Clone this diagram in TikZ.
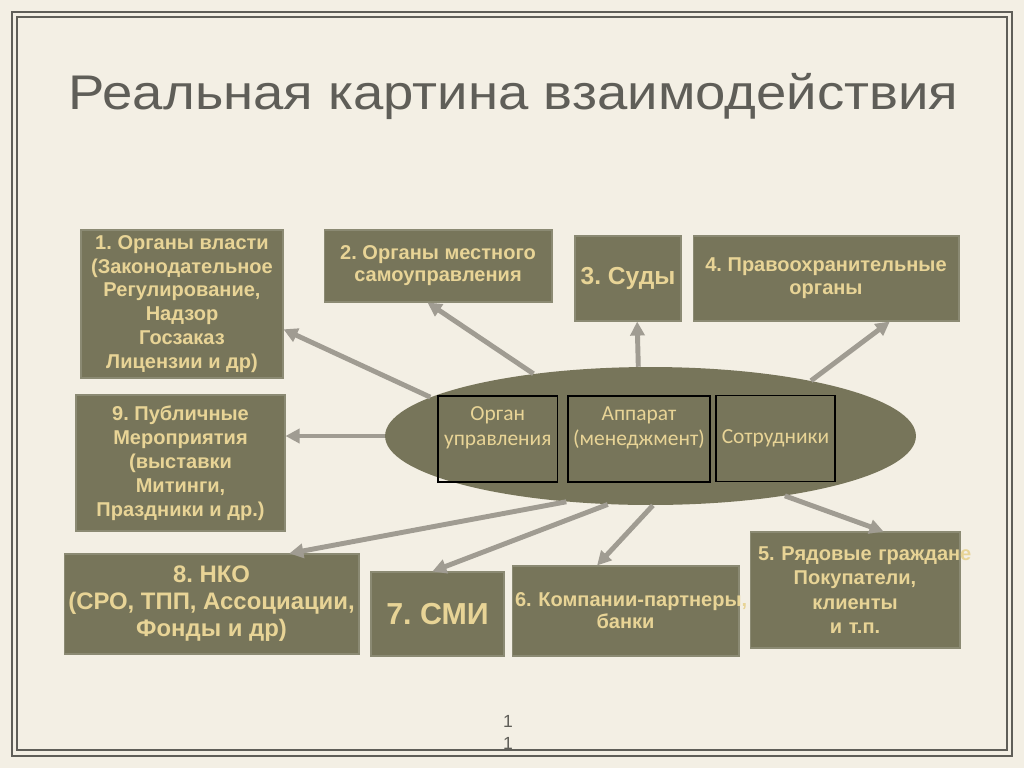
\documentclass[tikz,border=0pt]{standalone}
\usepackage{fontspec}
\setmainfont{Liberation Sans}
\newfontfamily\calib{Carlito}
\usepackage{xcolor}
\usepackage{tikz}
\usetikzlibrary{
    calc,
    arrows.meta,
    shapes.geometric % for the ellipse
}
\frenchspacing
\definecolor{paper}{RGB}{243,239,228}
\definecolor{boxolive}{RGB}{119,117,90}
\definecolor{boxtext}{RGB}{232,212,150}
\definecolor{ink}{RGB}{95,94,88}
\definecolor{arrowgray}{RGB}{160,156,146}
\tikzset{
    box/.style={rectangle, fill=boxolive, draw=boxolive!85!white, line width=0.6pt,
        text=boxtext, font=\bfseries\fontsize{11.4}{13.6}\selectfont,
        align=center, inner sep=0pt},
    cell/.style={rectangle, draw=black, line width=0.6pt, text=boxtext,
        font=\calib\fontsize{12.2}{14.7}\selectfont, align=center,
        inner sep=0pt, minimum height=1.72cm},
    title/.style={text=ink, font=\fontsize{27.7}{32}\selectfont, inner sep=0pt},
    link/.style={draw=arrowgray, line width=2.8pt, -{Triangle[length=8pt,width=8pt]}},
}

\begin{document}
\begin{tikzpicture}[x=0.02cm, y=-0.02cm]
    \useasboundingbox (0,0) rectangle (1024,768);
    \fill[paper] (0,0) rectangle (1024,768);
    % double frame
    \draw[ink, line width=1.1pt] (12,12) rectangle (1012,756);
    \draw[ink, line width=1.1pt] (17,17) rectangle (1007,750);

    \draw (513.5,96) node[title](head){\scalebox{1.12}[1]{Реальная картина взаимодействия}};

    % outer boxes
    \draw (182,304)   node[box, minimum width=4.04cm, minimum height=2.96cm](org){1. Органы власти\\(Законодательное\\Регулирование,\\Надзор\\Госзаказ\\Лицензии и др)};
    \draw (438,266)   node[box, minimum width=4.56cm, minimum height=1.44cm,
        font=\bfseries\fontsize{11.4}{12.5}\selectfont](local){2. Органы местного\\самоуправления};
    \draw (628,278.5) node[box, minimum width=2.12cm, minimum height=1.70cm,
        font=\bfseries\fontsize{14}{16}\selectfont](court){3. Суды};
    \draw (826,278.5) node[box, minimum width=5.32cm, minimum height=1.70cm,
        font=\bfseries\fontsize{11.4}{13}\selectfont](police){4. Правоохранительные\\органы};
    \draw (180.5,463) node[box, minimum width=4.18cm, minimum height=2.72cm](events){9. Публичные\\Мероприятия\\(выставки\\Митинги,\\Праздники и др.)};
    \draw (211.5,604) node[box, minimum width=5.90cm, minimum height=2.00cm,
        font=\bfseries\fontsize{13.6}{15.3}\selectfont](nko){8. НКО\\(СРО, ТПП, Ассоциации,\\Фонды и др)};
    \draw (437.5,614) node[box, minimum width=2.66cm, minimum height=1.68cm,
        font=\bfseries\fontsize{17.3}{19}\selectfont](media){7. СМИ};
    \draw (625.5,611) node[box, minimum width=4.54cm, minimum height=1.80cm, text width=4.42cm,
        font=\bfseries\fontsize{11.4}{12.5}\selectfont](firms){\mbox{6. Компании-партнеры,}\\банки};
    \draw (855,590)   node[box, minimum width=4.20cm, minimum height=2.32cm, text width=3.88cm,
        font=\bfseries\fontsize{11.4}{13.8}\selectfont](people){\mbox{5. Рядовые граждане}\\Покупатели,\\клиенты\\и т.п.};

    % the organisation itself
    \draw (650.5,436) node[ellipse, fill=boxolive, minimum width=10.62cm, minimum height=2.76cm, inner sep=0pt](core){};
    \draw (497.75,439) node[cell, minimum width=2.39cm](board){Орган\\управления\\~};
    \draw (639,439)    node[cell, minimum width=2.84cm](staff){Аппарат\\(менеджмент)\\~};
    \draw (775.5,438.5) node[cell, minimum width=2.38cm](crew){Сотрудники};

    \draw[link] (core.170) -- (org.-14);
    \draw[link] (core.152) -- (local.254);
    \draw[link] (core.100) -- (court.-78);
    \draw[link] (core.19)  -- (police.-34);
    \draw[link] (core.west) -- (core.west -| events.east);
    \draw[link] (core.218) -- (nko.33);
    \draw[link] (core.238) -- (media.97);
    \draw[link] (core.272) -- (firms.122);
    \draw[link] (core.336) -- (people.64);

    \draw (508,732) node[text=ink, font=\fontsize{10}{12.5}\selectfont, align=center](page){1\\1};
\end{tikzpicture}
\end{document}
